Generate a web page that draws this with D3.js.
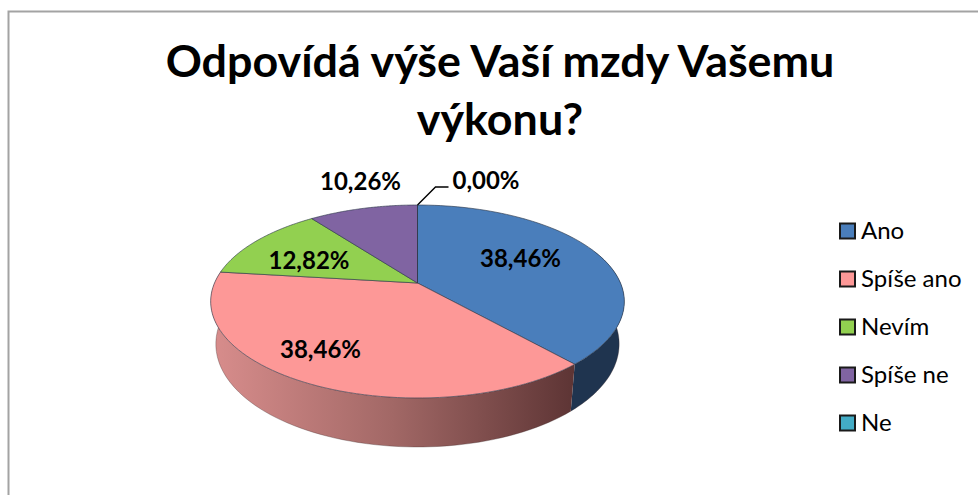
<!DOCTYPE html>
<html><head><meta charset="utf-8">
<script src="https://cdn.jsdelivr.net/npm/d3@7/dist/d3.min.js"></script>
<style>html,body{margin:0;padding:0;background:#fff}svg{display:block}text{font-family:Lato,"Open Sans",sans-serif;fill:#000}</style>
</head><body><svg id="c" width="978" height="495"></svg>
<script>
const titleLines = ["Odpovídá výše Vaší mzdy Vašemu", "výkonu?"];
const categories = ["Ano", "Spíše ano", "Nevím", "Spíše ne", "Ne"];
const values = [38.46, 38.46, 12.82, 10.26, 0.00];
const topColors = ["#4a7ebb", "#fd9897", "#92d050", "#8064a2", "#43acc6"];
const labelAt = [[520.5, 259], [320.5, 350], [309, 261], [360.5, 182], [486, 181]];

const W = 978, H = 495;
const svg = d3.select("#c");
const fmt = d3.formatLocale({decimal: ",", thousands: " ", grouping: [3], currency: ["", ""], percent: "%"}).format(".2f");

// frame
svg.append("path").attr("d", `M8.5,${H} V11.5 H${W}`).attr("fill", "none").attr("stroke", "#a3a3a3").attr("stroke-width", 2);

// title
svg.selectAll("text.t").data(titleLines).join("text").attr("class", "t")
  .attr("x", 500).attr("y", (d, i) => 77 + i * 58).attr("text-anchor", "middle")
  .attr("font-size", 44.8).attr("font-weight", 700).text(d => d);

// perspective projection of the pie disc
const cx = 417.5, a = 203, b = 38.7, c0 = 283, k = 0.1917;
const project = (th, r = 1) => {
  const u = r * Math.sin(th), v = -r * Math.cos(th), w = 1 - k * v;
  return [cx + a * u / w, (b * v + c0) / w];
};
const projectLow = th => {
  const v = -Math.cos(th), [x, y] = project(th);
  return [cx + (x - cx) * 0.975, y + 41 + 8 * v];
};

const arcs = d3.pie().sort(null).value(d => d)(values);
const line = d3.line();
const rimPts = (a0, a1, fn) => d3.range(0, 73).map(i => fn(a0 + (a1 - a0) * i / 72));

// gradient for the front wall
const defs = svg.append("defs");
const grad = defs.append("linearGradient").attr("id", "wall").attr("gradientUnits", "userSpaceOnUse")
  .attr("x1", 212).attr("x2", 572).attr("y1", 0).attr("y2", 0);
[[0, "#d88d8c"], [0.5, "#a26866"], [1, "#5e3535"]].forEach(s => grad.append("stop").attr("offset", s[0]).attr("stop-color", s[1]));

// walls: dark blue back to the right edge, pink along the front
const wall = (a0, a1) => line([...rimPts(a0, a1, t => project(t)), ...rimPts(a1, a0, projectLow)]) + "Z";
svg.append("path").attr("d", wall(arcs[0].startAngle + 1.2, arcs[0].endAngle)).attr("fill", "#1f344f");
svg.append("path").attr("d", wall(arcs[1].startAngle, arcs[1].endAngle)).attr("fill", "url(#wall)");
svg.append("path").attr("d", line(rimPts(arcs[0].startAngle + 1.35, arcs[1].endAngle - 0.05, projectLow)))
  .attr("fill", "none").attr("stroke", "#3b2a2a").attr("stroke-opacity", 0.45).attr("stroke-width", 0.7);

// top faces
svg.selectAll("path.s").data(arcs).join("path").attr("class", "s")
  .attr("d", d => line([project(0, 0), ...rimPts(d.startAngle, d.endAngle, t => project(t))]) + "Z")
  .attr("fill", (d, i) => topColors[i]).attr("stroke", "#2f3b4c").attr("stroke-opacity", 0.8).attr("stroke-width", 0.8).attr("stroke-linejoin", "round");

// leader for the zero slice
const apex = project(arcs[4].startAngle);
svg.append("path").attr("d", line([apex, [apex[0] + 18, apex[1] - 18], [apex[0] + 31, apex[1] - 18]]))
  .attr("fill", "none").attr("stroke", "#000").attr("stroke-width", 1.4);

// data labels
svg.selectAll("text.l").data(values).join("text").attr("class", "l")
  .attr("x", (d, i) => labelAt[i][0]).attr("y", (d, i) => labelAt[i][1]).attr("dy", "0.35em")
  .attr("text-anchor", "middle").attr("font-size", 24).attr("font-weight", 700)
  .text(d => fmt(d) + "%");

// legend
const ly = d3.scalePoint().domain(categories).range([231, 423]);
const lg = svg.selectAll("g.k").data(categories).join("g").attr("class", "k").attr("transform", d => `translate(0,${ly(d)})`);
lg.append("rect").attr("x", 840).attr("y", -7.5).attr("width", 15).attr("height", 15)
  .attr("fill", (d, i) => topColors[i]).attr("stroke", "#1a1a1a").attr("stroke-width", 2);
lg.append("text").attr("x", 861).attr("dy", "0.35em").attr("font-size", 24).text(d => d);
</script></body></html>
